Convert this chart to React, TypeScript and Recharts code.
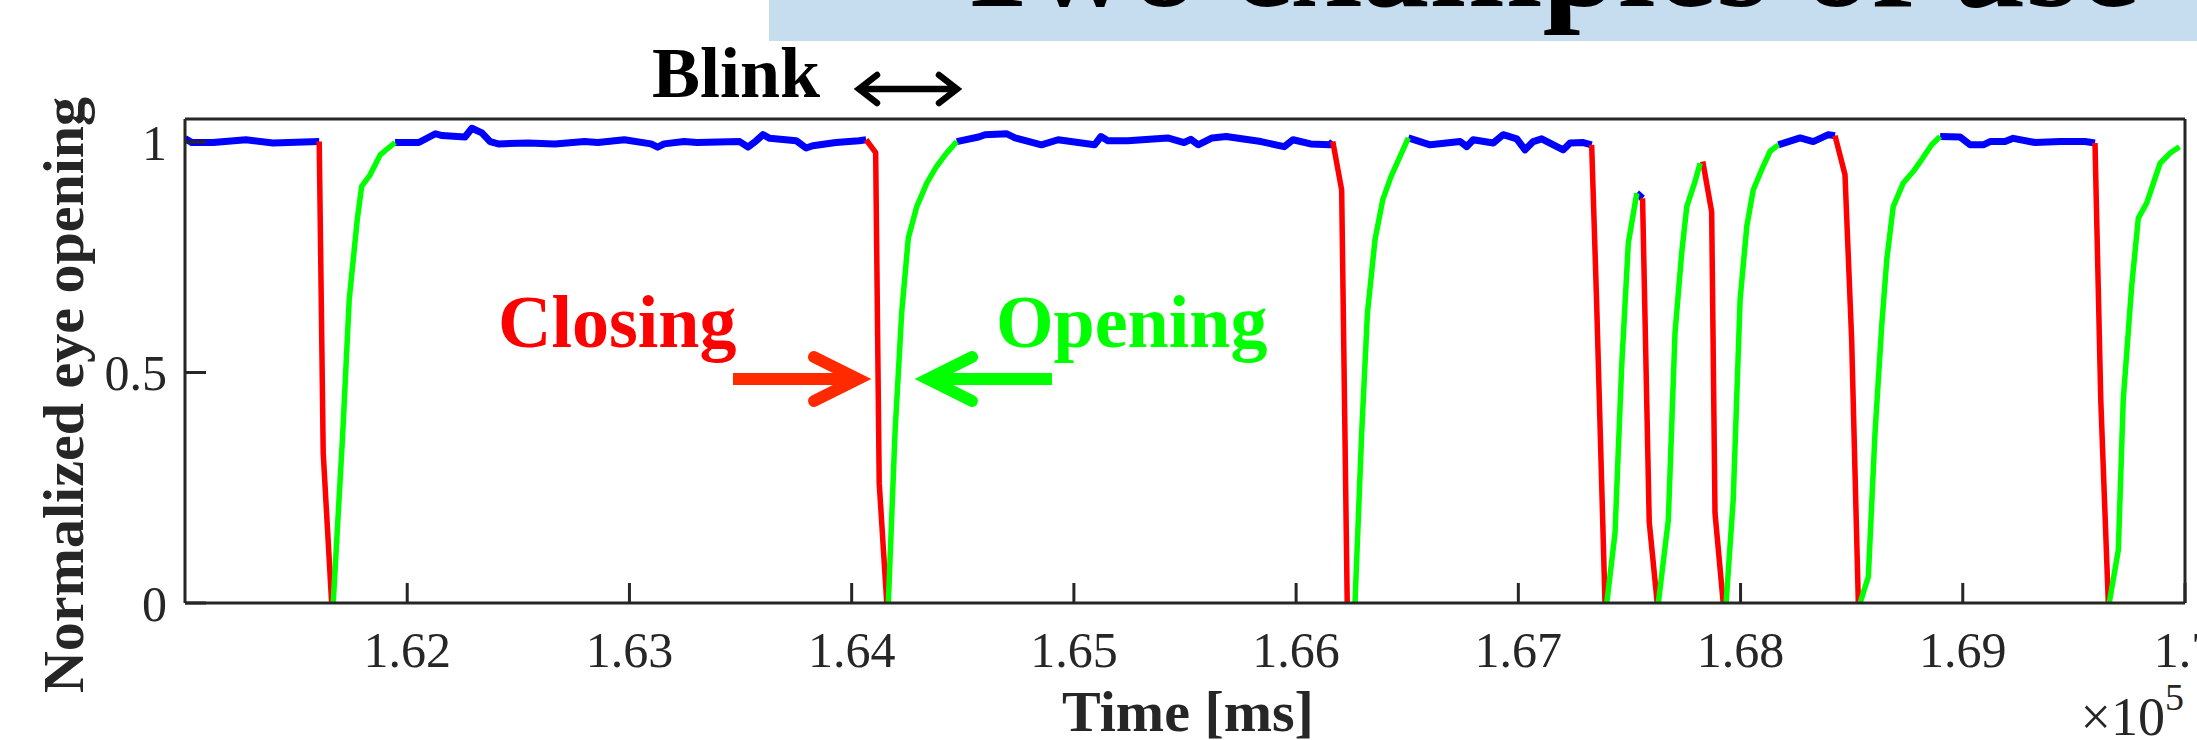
import React from "react";
import { LineChart, Line, XAxis, YAxis } from "recharts";

type Pt = [number, number];

// eye opening over time, [time ms, normalized opening], split by state
const eyeOpen: Pt[][] = [
  [[161000, 1.008], [161030, 0.999], [161126, 0.999], [161274, 1.005], [161396, 0.998], [161604, 1.001]],
  [[161945, 0.999], [162052, 0.999], [162127, 1.018], [162157, 1.014], [162260, 1.011], [162291, 1.03], [162336, 1.02], [162373, 1.001], [162410, 0.996], [162544, 0.998], [162664, 0.996], [162798, 1.001], [162858, 0.999], [162977, 1.005], [163097, 0.996], [163127, 0.989], [163156, 0.996], [163246, 1.001], [163304, 0.999], [163496, 1.001], [163534, 0.989], [163571, 1.003], [163601, 1.016], [163631, 1.008], [163750, 1.003], [163795, 0.987], [163825, 0.992], [163929, 0.999], [164033, 1.003], [164065, 1.005]],
  [[164473, 1.001], [164571, 1.011], [164600, 1.016], [164698, 1.018], [164735, 1.009], [164854, 0.994], [164929, 1.005], [165093, 0.994], [165122, 1.012], [165153, 1.003], [165242, 1.003], [165422, 1.009], [165496, 0.999], [165526, 1.006], [165559, 0.994], [165622, 1.009], [165685, 1.012], [165842, 1.001], [165946, 0.99], [165986, 1.005], [166065, 0.996], [166153, 0.994], [166165, 1.001]],
  [[166505, 1.009], [166603, 0.994], [166738, 1.001], [166768, 0.99], [166797, 1.005], [166887, 0.998], [166932, 1.016], [166993, 1.007], [167030, 0.983], [167067, 1.001], [167105, 1.007], [167202, 0.983], [167233, 0.998], [167292, 0.999], [167330, 0.994]],
  [[167533, 0.889], [167559, 0.878]],
  [[168170, 0.994], [168268, 1.009], [168327, 1.001], [168395, 1.016], [168425, 1.014]],
  [[168898, 1.012], [168988, 1.011], [169033, 0.994], [169092, 0.994], [169123, 1.001], [169190, 1.001], [169227, 1.008], [169325, 0.999], [169438, 1.001], [169550, 1.001], [169595, 0.998]],
];

const closing: Pt[][] = [
  [[161604, 1.001], [161622, 0.325], [161660, 0]],
  [[164065, 1.005], [164108, 0.977], [164124, 0.26], [164158, 0]],
  [[166165, 1.001], [166205, 0.896], [166230, 0]],
  [[167330, 0.994], [167352, 0.658], [167390, 0]],
  [[167559, 0.878], [167589, 0.176], [167625, 0]],
  [[167830, 0.958], [167870, 0.849], [167885, 0.195], [167922, 0]],
  [[168425, 1.014], [168470, 0.929], [168500, 0.571], [168530, 0]],
  [[169595, 0.998], [169621, 0.44], [169655, 0]],
];

const opening: Pt[][] = [
  [[161667, 0], [161710, 0.369], [161739, 0.658], [161775, 0.831], [161795, 0.904], [161833, 0.929], [161878, 0.972], [161945, 0.999]],
  [[164165, 0], [164195, 0.368], [164225, 0.629], [164255, 0.792], [164293, 0.86], [164338, 0.911], [164382, 0.947], [164427, 0.976], [164473, 1.001]],
  [[166265, 0], [166295, 0.368], [166321, 0.629], [166355, 0.788], [166390, 0.875], [166427, 0.925], [166505, 1.009]],
  [[167398, 0], [167435, 0.151], [167465, 0.513], [167495, 0.781], [167533, 0.889]],
  [[167630, 0], [167675, 0.18], [167705, 0.585], [167735, 0.759], [167758, 0.86], [167795, 0.914], [167818, 0.954]],
  [[167935, 0], [167967, 0.224], [167998, 0.658], [168028, 0.817], [168057, 0.896], [168095, 0.94], [168133, 0.98], [168170, 0.994]],
  [[168538, 0], [168575, 0.057], [168605, 0.368], [168635, 0.6], [168658, 0.745], [168687, 0.86], [168732, 0.911], [168777, 0.936], [168815, 0.962], [168860, 0.994], [168898, 1.012]],
  [[169659, 0], [169700, 0.115], [169722, 0.44], [169760, 0.687], [169790, 0.835], [169828, 0.868], [169888, 0.954], [169933, 0.976], [169975, 0.99]],
];

const timeTicks = [162000, 163000, 164000, 165000, 166000, 167000, 168000, 169000, 170000];
const levelTicks = [0, 0.5, 1];

const W = 2197;
const H = 740;
const AXIS = "#262626";
const SERIF = "'Liberation Serif', 'Times New Roman', serif";

const toRows = (seg: Pt[]) => seg.map(([t, v]) => ({ t, v }));
const fmtTime = (v: number) => String(Number((v / 1e5).toFixed(2)));

const axisLine = { stroke: AXIS, strokeWidth: 3 };
const tickFont = { fill: AXIS, fontSize: 50, fontFamily: SERIF };

const App = () => {
  const series = (segs: Pt[][], color: string, w: number, key: string) =>
    segs.map((seg, i) => (
      <Line
        key={key + i}
        xAxisId="b"
        yAxisId="l"
        data={toRows(seg)}
        dataKey="v"
        type="linear"
        stroke={color}
        strokeWidth={w}
        strokeLinejoin="round"
        dot={false}
        activeDot={false}
        isAnimationActive={false}
      />
    ));

  return (
    <div style={{ position: "absolute", left: 0, top: 0, width: W, height: H, background: "#fff", overflow: "hidden" }}>
      <LineChart width={W} height={H} margin={{ top: 118, right: 11, bottom: 0, left: 0 }}>
        <XAxis
          xAxisId="b"
          dataKey="t"
          type="number"
          domain={[161000, 170000]}
          allowDataOverflow
          ticks={timeTicks}
          interval={0}
          tickFormatter={fmtTime}
          height={137}
          tickSize={-20}
          tickMargin={48}
          tick={tickFont}
          axisLine={axisLine}
          tickLine={axisLine}
        />
        <XAxis
          xAxisId="t"
          orientation="top"
          dataKey="t"
          type="number"
          domain={[161000, 170000]}
          allowDataOverflow
          ticks={timeTicks}
          interval={0}
          height={1}
          tickSize={-20}
          tick={false}
          axisLine={axisLine}
          tickLine={axisLine}
        />
        <YAxis
          yAxisId="l"
          type="number"
          domain={[0, 1.05]}
          allowDataOverflow
          ticks={levelTicks}
          interval={0}
          width={185}
          tickSize={-21}
          tickMargin={39}
          tick={tickFont}
          axisLine={axisLine}
          tickLine={axisLine}
        />
        <YAxis
          yAxisId="r"
          orientation="right"
          type="number"
          domain={[0, 1.05]}
          allowDataOverflow
          ticks={levelTicks}
          interval={0}
          width={1}
          tickSize={-21}
          tick={false}
          axisLine={axisLine}
          tickLine={axisLine}
        />
        {series(eyeOpen, "#0000ff", 7, "open")}
        {series(closing, "#ff0000", 5.5, "close")}
        {series(opening, "#00ff00", 5.5, "opening")}
      </LineChart>

      <svg
        width={W}
        height={H}
        style={{ position: "absolute", left: 0, top: 0, pointerEvents: "none" }}
        fontFamily={SERIF}
      >
        <rect x={769} y={0} width={W - 769} height={41} fill="#c6dcef" />
        <text x={952} y={6} fontSize={136} fontWeight="bold" fill="#000">
          Two examples of use
        </text>

        <text x={652} y={97} fontSize={72} fontWeight="bold" fill="#000">
          Blink
        </text>
        <g stroke="#000" strokeWidth={6.5} fill="none" strokeLinecap="round" strokeLinejoin="miter">
          <line x1={862} y1={89} x2={954} y2={89} />
          <polyline points="877,75 859,89 877,103" />
          <polyline points="939,75 957,89 939,103" />
        </g>

        <text x={498} y={347} fontSize={74} fontWeight="bold" fill="#ff0000">
          Closing
        </text>
        <text x={996} y={347} fontSize={74} fontWeight="bold" fill="#00ff00">
          Opening
        </text>

        <g stroke="#ff2a00" strokeWidth={12} fill="none" strokeLinejoin="miter">
          <line x1={733} y1={379} x2={852} y2={379} />
          <polyline points="814,357 858,379 814,401" strokeLinecap="round" />
        </g>
        <g stroke="#00ff00" strokeWidth={12} fill="none" strokeLinejoin="miter">
          <line x1={934} y1={379} x2={1052} y2={379} />
          <polyline points="972,357 928,379 972,401" strokeLinecap="round" />
        </g>

        <text
          transform="translate(83,395) rotate(-90)"
          textAnchor="middle"
          fontSize={58}
          fontWeight="bold"
          fill={AXIS}
        >
          Normalized eye opening
        </text>
        <text x={1188} y={731} textAnchor="middle" fontSize={58} fontWeight="bold" fill={AXIS}>
          Time [ms]
        </text>
        <text x={2165} y={735} textAnchor="end" fontSize={54} fill={AXIS}>
          ×10
        </text>
        <text x={2165} y={710} fontSize={38} fill={AXIS}>
          5
        </text>
      </svg>
    </div>
  );
};

export default App;
